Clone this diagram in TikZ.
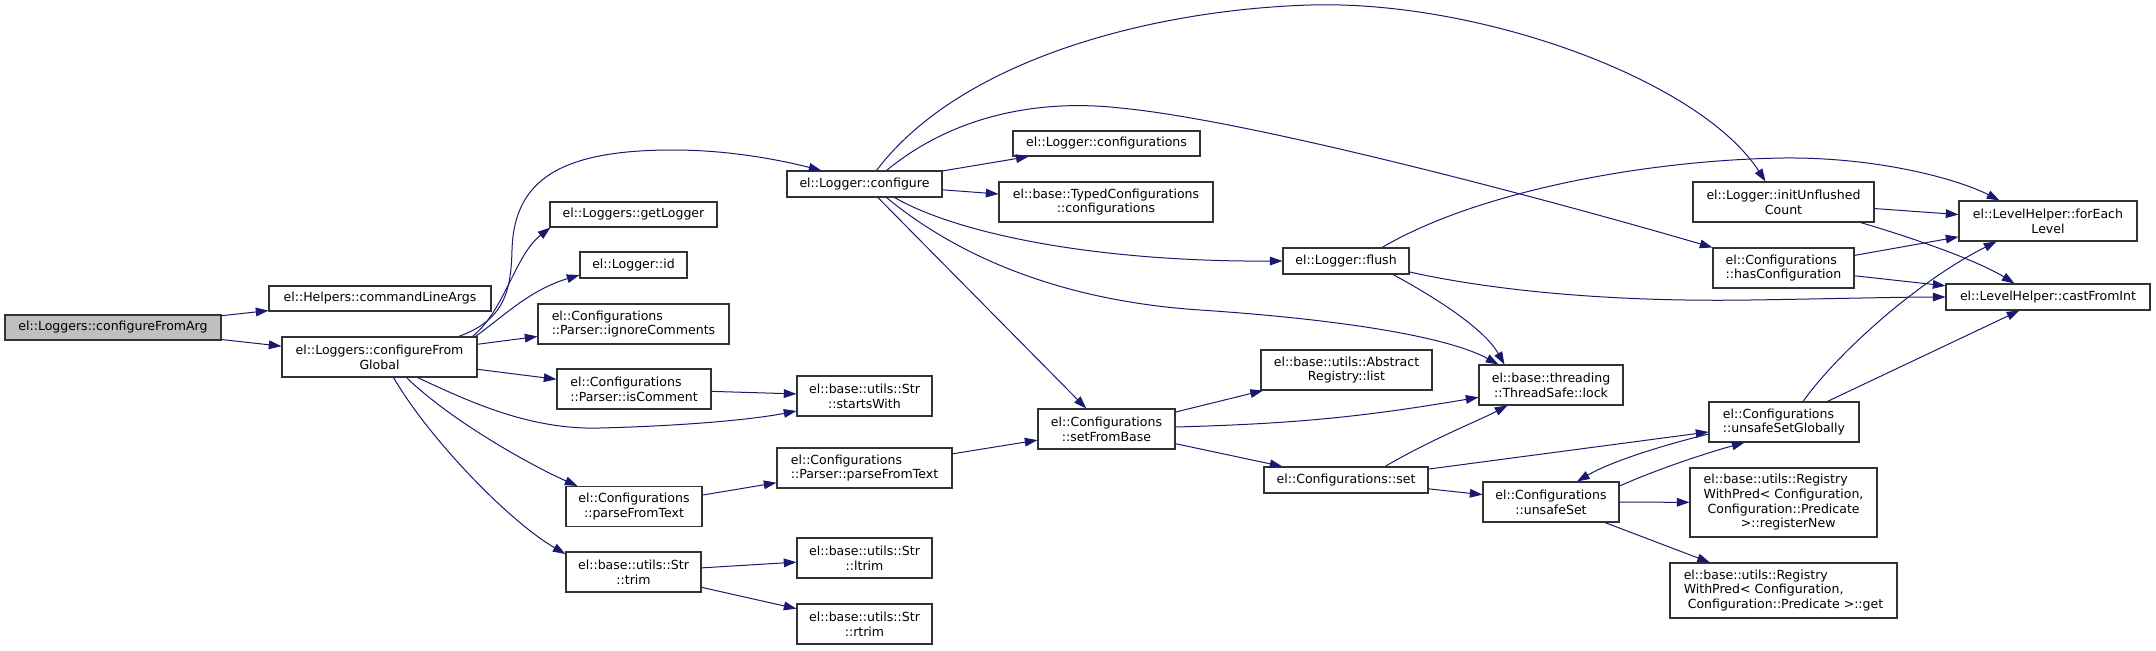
\documentclass[tikz,border=0pt]{standalone}
\usepackage{fontspec}
\setmainfont{DejaVu Sans}
\usetikzlibrary{arrows.meta,calc}
\definecolor{edgec}{HTML}{191970}
\definecolor{boxc}{HTML}{333333}
\definecolor{srcfill}{HTML}{BFBFBF}
\begin{document}
\begin{tikzpicture}[x=0.75pt,y=-0.75pt,
  box/.style={draw=boxc,line width=0.8pt,fill=white,inner sep=0pt,
    font=\fontsize{9.4}{11}\selectfont,align=center},
  wh/.style 2 args={minimum width=#1*0.75pt,minimum height=#2*0.75pt},
  e/.style={draw=edgec,line width=0.75pt,-{Triangle[length=9.5pt,width=6.5pt]}}]
\useasboundingbox (0,0) rectangle (2156,650);

% nodes
\node[box,wh={216}{25},fill=srcfill] (cfa) at (113,327.5) {el::Loggers::configureFromArg};
\node[box,wh={222}{25}] (cla) at (380,298.5) {el::Helpers::commandLineArgs};
\node[box,wh={195}{40}] (cfg) at (379.5,357) {el::Loggers::configureFrom\\Global};
\node[box,wh={155}{26}] (cfgr) at (864.5,184) {el::Logger::configure};
\node[box,wh={167}{25}] (gl) at (633.5,214.5) {el::Loggers::getLogger};
\node[box,wh={107}{26}] (lid) at (633.5,265) {el::Logger::id};
\node[box,wh={191}{40},align=left] (ign) at (633.5,324) {el::Configurations\\::Parser::ignoreComments};
\node[box,wh={154}{40},align=left] (isc) at (634,389) {el::Configurations\\::Parser::isComment};
\node[box,wh={135}{40}] (sw) at (864.5,396) {el::base::utils::Str\\::startsWith};
\node[box,wh={136}{40}] (cpft) at (634,506.5) {el::Configurations\\::parseFromText};
\node[box,wh={175}{40},align=left] (ppft) at (864.5,468) {el::Configurations\\::Parser::parseFromText};
\node[box,wh={135}{40}] (trim) at (633.5,572) {el::base::utils::Str\\::trim};
\node[box,wh={135}{40}] (ltrim) at (864.5,558) {el::base::utils::Str\\::ltrim};
\node[box,wh={135}{40}] (rtrim) at (864.5,624) {el::base::utils::Str\\::rtrim};
\node[box,wh={187}{25}] (lcfg) at (1106.5,143.5) {el::Logger::configurations};
\node[box,wh={214}{40}] (tcfg) at (1106,202) {el::base::TypedConfigurations\\::configurations};
\node[box,wh={137}{40}] (sfb) at (1106.5,429) {el::Configurations\\::setFromBase};
\node[box,wh={126}{26}] (flush) at (1346,261) {el::Logger::flush};
\node[box,wh={171}{40}] (arl) at (1346.5,370) {el::base::utils::Abstract\\Registry::list};
\node[box,wh={164}{26}] (set) at (1346,480) {el::Configurations::set};
\node[box,wh={144}{40}] (lock) at (1551,385) {el::base::threading\\::ThreadSafe::lock};
\node[box,wh={136}{40}] (us) at (1551,502) {el::Configurations\\::unsafeSet};
\node[box,wh={150}{40},align=left] (usg) at (1784,422) {el::Configurations\\::unsafeSetGlobally};
\node[box,wh={187}{69},align=left] (rn) at (1783.5,502.5) {el::base::utils::Registry\\WithPred< Configuration,\\\hspace*{3pt}Configuration::Predicate\\\hspace*{28pt}>::registerNew};
\node[box,wh={227}{55},align=left] (get) at (1783.5,590.5) {el::base::utils::Registry\\WithPred< Configuration,\\\hspace*{3pt}Configuration::Predicate >::get};
\node[box,wh={181}{40}] (iuc) at (1783.5,202) {el::Logger::initUnflushed\\Count};
\node[box,wh={141}{40},align=left] (hc) at (1783.5,268) {el::Configurations\\::hasConfiguration};
\node[box,wh={178}{40}] (fel) at (2048,221) {el::LevelHelper::forEach\\Level};
\node[box,wh={204}{26}] (cfi) at (2048,297) {el::LevelHelper::castFromInt};

% edges
\draw[e] (cfa) -- (cla);
\draw[e] (cfa) -- (cfg);
\draw[e] ($(cfg.north)+(79,0)$) .. controls (505,320) and (511,290) .. (512,250)
   .. controls (514,180) and (560,150) .. (673,150)
   .. controls (730,150) and (780,160) .. ($(cfgr.north west)+(35,0)$);
\draw[e] ($(cfg.north)+(93,0)$) .. controls (505,310) and (515,255) .. ($(gl.south west)+(1,0)$);
\draw[e] ($(cfg.north)+(96,0)$) .. controls (505,315) and (530,290) .. ($(lid.west)+(0,10)$);
\draw[e] (cfg) -- (ign);
\draw[e] (cfg) -- (isc);
\draw[e] ($(cfg.south)+(38,0)$) .. controls (470,402) and (530,430) .. (600,428)
   .. controls (680,426) and (750,420) .. ($(sw.west)+(0,15)$);
\draw[e] ($(cfg.south)+(27,0)$) .. controls (450,420) and (530,465) .. ($(cpft.north west)+(12,0)$);
\draw[e] ($(cfg.south)+(14,0)$) .. controls (430,440) and (510,522) .. ($(trim.west)+(0,-18)$);
\draw[e] (isc) -- (sw);
\draw[e] (cpft) -- (ppft);
\draw[e] (ppft) -- (sfb);
\draw[e] (trim) -- (ltrim);
\draw[e] (trim) -- (rtrim);
\draw[e] (cfgr) -- (lcfg);
\draw[e] (cfgr) -- (tcfg);
\draw[e] ($(cfgr.north)+(12,0)$) .. controls (960,60) and (1150,10) .. (1310,5)
   .. controls (1480,0) and (1700,80) .. ($(iuc.north)+(-18,0)$);
\draw[e] ($(cfgr.north)+(22,0)$) .. controls (960,110) and (1050,100) .. (1120,108)
   .. controls (1250,120) and (1550,200) .. (hc.north west);
\draw[e] ($(cfgr.south)+(30,0)$) .. controls (960,235) and (1100,262) .. (flush.west);
\draw[e] ($(cfgr.south)+(22,0)$) .. controls (950,250) and (1050,300) .. (1200,310)
   .. controls (1350,320) and (1450,338) .. ($(lock.north west)+(20,0)$);
\draw[e] (cfgr) -- (sfb);
\draw[e] ($(flush.north)+(36,0)$) .. controls (1480,190) and (1650,160) .. (1783,158)
   .. controls (1880,157) and (1960,180) .. ($(fel.north west)+(41,0)$);
\draw[e] ($(flush.east)+(0,11)$) .. controls (1500,292) and (1620,302) .. (1750,300)
   .. controls (1820,299) and (1900,297) .. (cfi.west);
\draw[e] ($(flush.south)+(47,0)$) .. controls (1440,300) and (1485,330) .. ($(lock.north west)+(26,0)$);
\draw[e] (sfb) -- (arl);
\draw[e] (sfb) to[bend right=4] (lock);
\draw[e] (sfb) -- (set);
\draw[e] ($(set.north)+(39,0)$) .. controls (1430,440) and (1480,420) .. ($(lock.south west)+(29,0)$);
\draw[e] (set) -- (usg);
\draw[e] (set) -- (us);
\draw[e] ($(us.east)+(0,-16)$) .. controls (1660,468) and (1710,452) .. ($(usg.south west)+(36,0)$);
\draw[e] ($(usg.west)+(0,12)$) .. controls (1660,446) and (1610,462) .. ($(us.north)+(26,0)$);
\draw[e] (us) -- (rn);
\draw[e] (us) -- (get);
\draw[e] ($(usg.north)+(19,0)$) .. controls (1840,350) and (1920,280) .. ($(fel.south west)+(38,0)$);
\draw[e] (usg) -- (cfi);
\draw[e] (iuc) -- (fel);
\draw[e] ($(iuc.south east)+(-14,0)$) .. controls (1920,240) and (1980,262) .. ($(cfi.north west)+(69,0)$);
\draw[e] (hc) -- (fel);
\draw[e] (hc) -- (cfi);
\end{tikzpicture}
\end{document}
